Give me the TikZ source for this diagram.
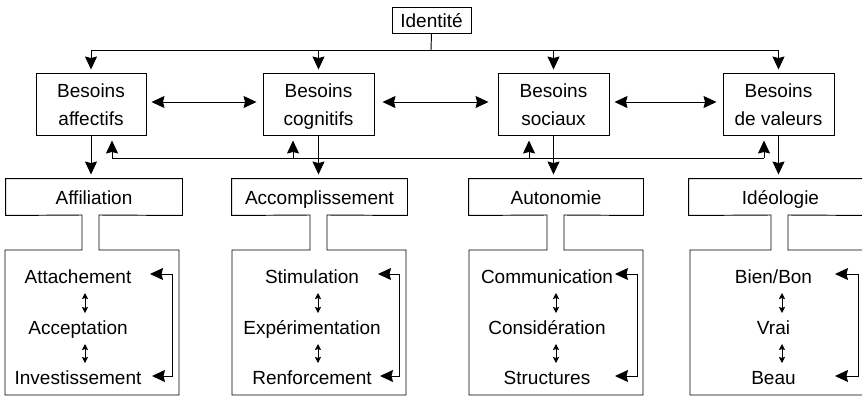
\documentclass[tikz,border=0pt]{standalone}
\usepackage{fontspec}
\setmainfont{Liberation Sans}
\usetikzlibrary{arrows.meta,calc}
\begin{document}
\begin{tikzpicture}[x=1pt,y=-1pt, line width=0.95pt,
  txt/.style={font=\fontsize{19}{28}\selectfont},
  box/.style={draw, inner sep=0pt, minimum height=62pt},
  lab/.style={txt, inner sep=0pt, text height=14pt, text depth=0pt, minimum height=36pt},
  arr/.style={-{Stealth[length=13pt,width=12pt,inset=1.5pt]}},
  darr/.style={{Stealth[length=13pt,width=12pt,inset=1.5pt]}-{Stealth[length=13pt,width=12pt,inset=1.5pt]}},
  small/.style={line width=0.8pt,{Stealth[length=6pt,width=6pt,inset=1pt]}-{Stealth[length=6pt,width=6pt,inset=1pt]}},
  item/.style={txt, anchor=base, inner sep=0pt}
]
\useasboundingbox (0,0) rectangle (862,397);

% top
\node[draw, txt, inner sep=0pt, minimum width=79pt, minimum height=26pt, text height=14pt, text depth=0pt] (id) at (431.5,20) {Identité};

\node[box, minimum width=110pt] (aff) at (91,104) {};
\node[box, minimum width=111pt] (cog) at (318.5,104) {};
\node[box, minimum width=111pt] (soc) at (553.5,104) {};
\node[box, minimum width=111pt] (val) at (778.5,104) {};
\node[item] (aff1) at ($(aff.center)+(0,-7)$) {Besoins};
\node[item] (aff2) at ($(aff.center)+(0,21)$) {affectifs};
\node[item] (cog1) at ($(cog.center)+(0,-7)$) {Besoins};
\node[item] (cog2) at ($(cog.center)+(0,21)$) {cognitifs};
\node[item] (soc1) at ($(soc.center)+(0,-7)$) {Besoins};
\node[item] (soc2) at ($(soc.center)+(0,21)$) {sociaux};
\node[item] (val1) at ($(val.center)+(0,-7)$) {Besoins};
\node[item] (val2) at ($(val.center)+(0,21)$) {de valeurs};

\coordinate (bus) at (431,50);
\draw (id.south) -- (bus);
\draw[arr, shorten >=3pt] (bus) -| (aff.north);
\draw[arr, shorten >=3pt] (bus) -| (cog.north);
\draw[arr, shorten >=3pt] (bus) -| (soc.north);
\draw[arr, shorten >=3pt] (bus) -| (val.north);

\draw[darr, shorten <=5pt, shorten >=6pt] ($(aff.east)+(0,-2)$) -- ($(cog.west)+(0,-2)$);
\draw[darr, shorten <=8pt, shorten >=9pt] ($(cog.east)+(0,-2)$) -- ($(soc.west)+(0,-2)$);
\draw[darr, shorten <=5pt, shorten >=6pt] ($(soc.east)+(0,-2)$) -- ($(val.west)+(0,-2)$);

% category labels
\node[lab, minimum width=176pt] (c1) at (94,197) {Affiliation};
\node[lab, minimum width=175pt] (c2) at (319.5,197) {Accomplissement};
\node[lab, minimum width=174pt] (c3) at (556,197) {Autonomie};
\node[lab, minimum width=183pt] (c4) at (780.5,197) {Idéologie};

\draw[arr, shorten >=4pt] (aff.south) -- (aff.south |- c1.north);
\draw[arr, shorten >=4pt] (cog.south) -- (cog.south |- c2.north);
\draw[arr, shorten >=4pt] (soc.south) -- (soc.south |- c3.north);
\draw[arr, shorten >=4pt] (val.south) -- (val.south |- c4.north);

% feedback bus
\coordinate (f1) at (112,158);
\coordinate (f2) at (293,158);
\coordinate (f3) at (529,158);
\coordinate (f4) at (764,158);
\draw (f1) -- (f4);
\draw[arr, shorten >=5pt] (f1) -- (f1 |- aff.south);
\draw[arr, shorten >=5pt] (f2) -- (f2 |- cog.south);
\draw[arr, shorten >=5pt] (f3) -- (f3 |- soc.south);
\draw[arr, shorten >=5pt] (f4) -- (f4 |- val.south);

% outlines
\draw (c1.north west) -- (c1.north east) -- (c1.south east) -- (99,215) -- (99,250) -- (179,250) -- (179,395) -- (5,395) -- (5,250) -- (82,250) -- (82,215) -- (c1.south west) -- cycle;
\draw (c2.north west) -- (c2.north east) -- (c2.south east) -- (327,215) -- (327,250) -- (406,250) -- (406,395) -- (232,395) -- (232,250) -- (310,250) -- (310,215) -- (c2.south west) -- cycle;
\draw (c3.north west) -- (c3.north east) -- (c3.south east) -- (564,215) -- (564,250) -- (643,250) -- (643,395) -- (469,395) -- (469,250) -- (547,250) -- (547,215) -- (c3.south west) -- cycle;
\draw (c4.north west) -- (c4.north east) -- (c4.south east) -- (788,215) -- (788,250) -- (872,250) -- (872,395) -- (690,395) -- (690,250) -- (771,250) -- (771,215) -- (c4.south west) -- cycle;

% items A
\node[item] (a1) at (78,283) {Attachement};
\node[item] (a2) at (78,334) {Acceptation};
\node[item] (a3) at (78,384) {Investissement};
\draw[small] ($(a1.base)+(7,10)$) -- ($(a2.base)+(7,-21)$);
\draw[small] ($(a2.base)+(7,10)$) -- ($(a3.base)+(7,-21)$);
\draw[darr] ($(a1.base)+(72,-9)$) -| ($(a3.base)+(94,-8)$) -- ($(a3.base)+(74,-8)$);

% items B
\node[item] (b1) at (312,283) {Stimulation};
\node[item] (b2) at (312,334) {Expérimentation};
\node[item] (b3) at (312,384) {Renforcement};
\draw[small] ($(b1.base)+(6,10)$) -- ($(b2.base)+(6,-21)$);
\draw[small] ($(b2.base)+(6,10)$) -- ($(b3.base)+(6,-21)$);
\draw[darr] ($(b1.base)+(66,-9)$) -| ($(b3.base)+(87,-8)$) -- ($(b3.base)+(68,-8)$);

% items C
\node[item] (d1) at (547,283) {Communication};
\node[item] (d2) at (547,334) {Considération};
\node[item] (d3) at (547,384) {Structures};
\draw[small] ($(d1.base)+(9,10)$) -- ($(d2.base)+(9,-21)$);
\draw[small] ($(d2.base)+(9,10)$) -- ($(d3.base)+(9,-21)$);
\draw[darr] ($(d1.base)+(68,-9)$) -| ($(d3.base)+(90,-8)$) -- ($(d3.base)+(68,-8)$);

% items D
\node[item] (e1) at (773.5,283) {Bien/Bon};
\node[item] (e2) at (773.5,334) {Vrai};
\node[item] (e3) at (773.5,384) {Beau};
\draw[small] ($(e1.base)+(8.5,10)$) -- ($(e2.base)+(8.5,-21)$);
\draw[small] ($(e2.base)+(8.5,10)$) -- ($(e3.base)+(8.5,-21)$);
\draw[darr] ($(e1.base)+(61.5,-9)$) -| ($(e3.base)+(84.5,-8)$) -- ($(e3.base)+(61.5,-8)$);
\end{tikzpicture}
\end{document}
